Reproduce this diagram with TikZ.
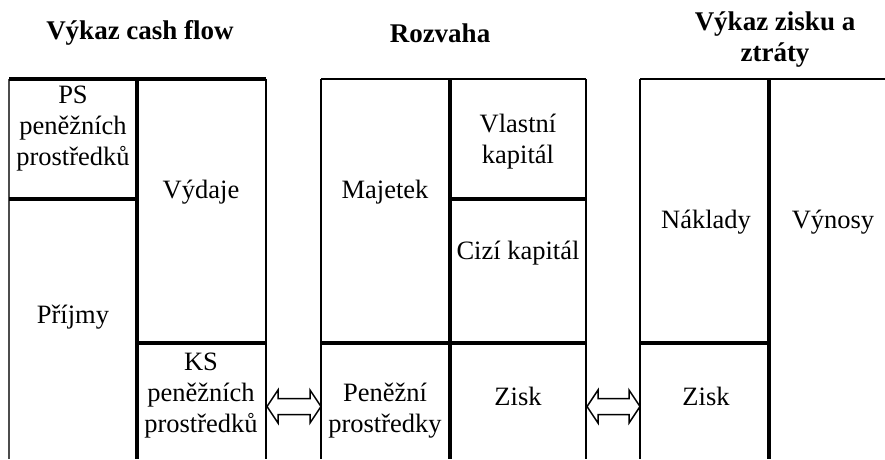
\documentclass[tikz,border=0pt]{standalone}
\usepackage{fontspec}
\setmainfont{Liberation Serif}
\usetikzlibrary{calc}
\begin{document}
\begin{tikzpicture}[x=1pt,y=-1pt,
  lbl/.style={align=center,font=\fontsize{26.5}{31}\selectfont,inner sep=0pt},
  ttl/.style={align=center,font=\bfseries\fontsize{27}{31}\selectfont,inner sep=0pt},
  thinl/.style={line width=1.5pt},
  thickl/.style={line width=3.2pt},
  midl/.style={line width=2.5pt},
  arrl/.style={line width=1.5pt,line join=miter}
]
\useasboundingbox (0,0) rectangle (885,459);
% titles
\node[ttl] (t1) at (140,33) {Výkaz cash flow};
\node[ttl] (t2) at (440,33) {Rozvaha};
\node[ttl] (t3) at (775,40) {Výkaz zisku a\\ztráty};
% box coordinates
\coordinate (a1) at (9,79);   \coordinate (a2) at (137,79);  \coordinate (a3) at (266,79);
\coordinate (b1) at (321,79); \coordinate (b2) at (450,79);  \coordinate (b3) at (586,79);
\coordinate (c1) at (640,79); \coordinate (c2) at (769,79);  \coordinate (c3) at (885,79);
% left block
\draw[thinl,black!70] (a1) -- (9,459);
\draw[thinl] (a3) -- (266,459);
\draw[thickl] (a1) -- (a3);
\draw[thickl] (a2) -- (137,459);
\draw[thickl] (9,199) -- (137,199);
\draw[thickl] (137,343) -- (266,343);
% middle block
\draw[midl] (b1) -- (321,459);
\draw[midl] (b3) -- (586,459);
\draw[midl] (b1) -- (b3);
\draw[thickl] (b2) -- (450,459);
\draw[thickl] (450,199) -- (586,199);
\draw[thickl] (321,343) -- (586,343);
% right block
\draw[thinl] (c1) -- (640,459);
\draw[midl] (c1) -- (c3);
\draw[line width=3.5pt] (c2) -- (769,459);
\draw[thickl] (640,343) -- (769,343);
% labels
\node[lbl] (ps) at (73,129) {PS\\peněžních\\prostředků};
\node[lbl] (prijmy) at (73,317) {Příjmy};
\node[lbl] (vydaje) at (201,192) {Výdaje};
\node[lbl] (ks) at (201,396) {KS\\peněžních\\prostředků};
\node[lbl] (majetek) at (385,192) {Majetek};
\node[lbl] (vk) at (518,142) {Vlastní\\kapitál};
\node[lbl] (ck) at (518,253) {Cizí kapitál};
\node[lbl] (pp) at (385,411) {Peněžní\\prostředky};
\node[lbl] (zisk1) at (518,396) {Zisk};
\node[lbl] (naklady) at (706,222) {Náklady};
\node[lbl] (zisk2) at (706,396) {Zisk};
\node[lbl] (vynosy) at (833,222) {Výnosy};
% arrows
\coordinate (ksE) at (267,406.5);
\coordinate (ppW) at (321,406.5);
\coordinate (zE) at (587,406.5);
\coordinate (z2W) at (640,406.5);
\draw[arrl] (ksE) -- ++(11,-16.5) -- ++(0,8.5) -- ($(ppW)+(-11,-8)$) -- ++(0,-8.5) -- (ppW)
  -- ++(-11,16.5) -- ++(0,-8.5) -- ($(ksE)+(11,8)$) -- ++(0,8.5) -- cycle;
\draw[arrl] (zE) -- ++(11,-16.5) -- ++(0,8.5) -- ($(z2W)+(-11,-8)$) -- ++(0,-8.5) -- (z2W)
  -- ++(-11,16.5) -- ++(0,-8.5) -- ($(zE)+(11,8)$) -- ++(0,8.5) -- cycle;
\end{tikzpicture}
\end{document}
